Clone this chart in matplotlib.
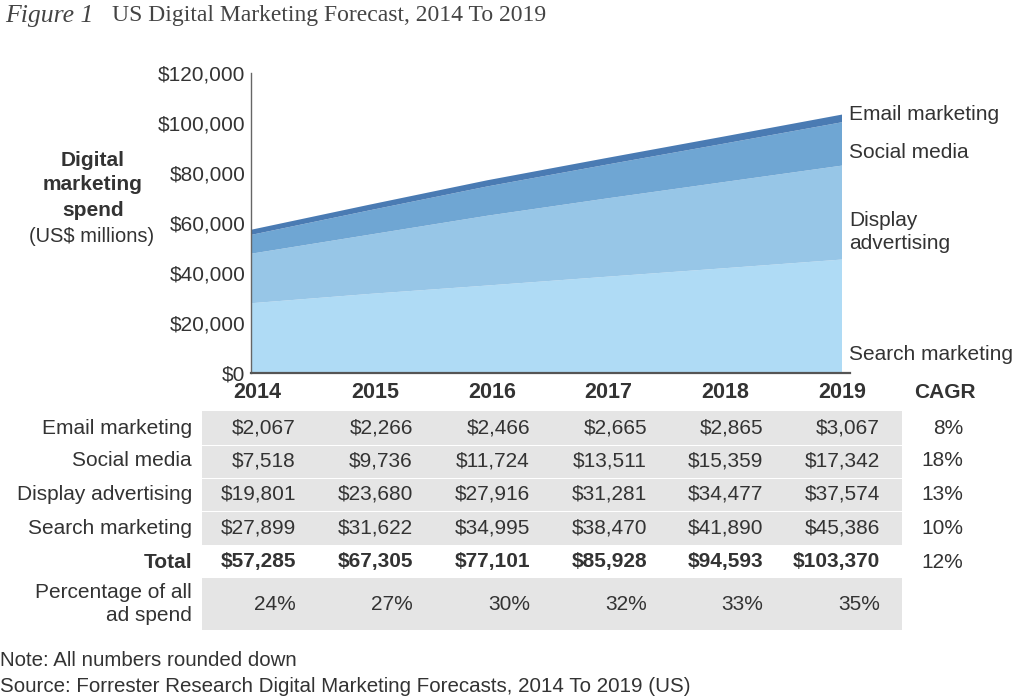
import matplotlib
matplotlib.use("Agg")
import matplotlib.pyplot as plt
from matplotlib.patches import Rectangle
from matplotlib.ticker import FuncFormatter

years = [2014, 2015, 2016, 2017, 2018, 2019]
email = [2067, 2266, 2466, 2665, 2865, 3067]
social = [7518, 9736, 11724, 13511, 15359, 17342]
display = [19801, 23680, 27916, 31281, 34477, 37574]
search = [27899, 31622, 34995, 38470, 41890, 45386]
total = [57285, 67305, 77101, 85928, 94593, 103370]
pct_all = ["24%", "27%", "30%", "32%", "33%", "35%"]
cagr = ["8%", "18%", "13%", "10%", "12%"]
row_labels = ["Email marketing", "Social media", "Display advertising", "Search marketing", "Total"]
series_labels = ["Search marketing", "Display\nadvertising", "Social media", "Email marketing"]
yticks = [0, 20000, 40000, 60000, 80000, 100000, 120000]

colors = ["#afdbf5", "#97c6e7", "#6fa6d3", "#4a7bb3"]
TXT = "#333333"
SANS = ["Liberation Sans", "DejaVu Sans"]
SERIF = ["Liberation Serif", "DejaVu Serif"]
TFS = 15  # table font size

W, H = 1024, 696
fig = plt.figure(figsize=(W / 100, H / 100), dpi=100)

# overlay axes in pixel coords for table/text
ov = fig.add_axes([0, 0, 1, 1], zorder=0)
ov.set_xlim(0, W)
ov.set_ylim(H, 0)
ov.axis("off")

# chart axes
x0, x1 = 251, 850
y0, y1 = 373, 73
ax = fig.add_axes([x0 / W, (H - y0) / H, (x1 - x0) / W, (y0 - y1) / H], zorder=2)
ax.stackplot(years, search, display, social, email, colors=colors, linewidth=0)
ax.set_xlim(2014, 2014 + 5 * (x1 - x0) / (842 - x0))
ax.set_ylim(0, 120000)
ax.set_yticks(yticks)
ax.yaxis.set_major_formatter(FuncFormatter(lambda v, p: "${:,.0f}".format(v)))
ax.tick_params(axis="y", length=0, pad=4, labelsize=15, labelcolor=TXT)
for lab in ax.get_yticklabels():
    lab.set_family(SANS)
ax.set_xticks([])
ax.patch.set_alpha(0)
for s in ["top", "right"]:
    ax.spines[s].set_visible(False)
ax.spines["left"].set_color("#666666")
ax.spines["left"].set_linewidth(1.0)
ax.spines["bottom"].set_color("#555555")
ax.spines["bottom"].set_linewidth(1.6)

# Title
fig.text(5 / W, 1 - 16 / H, "Figure 1", family=SERIF, style="italic", fontsize=18.5,
         color="#444444", va="center", ha="left")
fig.text(112 / W, 1 - 16 / H, "US Digital Marketing Forecast, 2014 To 2019", family=SERIF,
         fontsize=17, color="#444444", va="center", ha="left")

# Y axis title
ov.text(93, 185, "Digital\nmarketing\nspend", family=SANS, fontweight="bold", fontsize=15,
        color=TXT, ha="center", va="center", linespacing=1.4)
ov.text(92, 237, "(US$ millions)", family=SANS, fontsize=14.5, color=TXT, ha="center", va="center")

# Series labels on right
label_y = [355, 232, 152, 115]
for lbl, yy in zip(series_labels, label_y):
    ov.text(849, yy, lbl, family=SANS, fontsize=15, color=TXT, ha="left", va="center",
            linespacing=1.25)

# Table
col_center = [257, 375, 492, 608, 725, 842]
col_right = [296, 413, 530, 647, 763, 880]
ov.text(945, 393, "CAGR", family=SANS, fontweight="bold", fontsize=TFS, color=TXT,
        ha="center", va="center")
for yr, cx in zip(years, col_center):
    ov.text(cx, 393, str(yr), family=SANS, fontweight="bold", fontsize=15.5, color=TXT,
            ha="center", va="center")

bands = [(411, 445), (446, 478), (479, 511), (512, 545), (578, 630)]
for (ta, tb) in bands:
    ov.add_patch(Rectangle((202, ta), 902 - 202, tb - ta, facecolor="#e5e5e5", edgecolor="none"))

rows = [email, social, display, search, total]
row_y = [428, 461, 494, 528, 562]
for i, (lbl, vals, yy) in enumerate(zip(row_labels, rows, row_y)):
    bold = "bold" if lbl == "Total" else "normal"
    ov.text(192, yy, lbl, family=SANS, fontweight=bold, fontsize=TFS, color=TXT,
            ha="right", va="center")
    for v, rx in zip(vals, col_right):
        ov.text(rx, yy, "${:,}".format(v), family=SANS, fontweight=bold, fontsize=TFS,
                color=TXT, ha="right", va="center")
    ov.text(963, yy, cagr[i], family=SANS, fontsize=TFS, color=TXT, ha="right", va="center")

ov.text(192, 604, "Percentage of all\nad spend", family=SANS, fontsize=TFS, color=TXT,
        ha="right", va="center", linespacing=1.3, multialignment="right")
for p, rx in zip(pct_all, col_right):
    ov.text(rx, 604, p, family=SANS, fontsize=TFS, color=TXT, ha="right", va="center")

# Footer
ov.text(0, 660, "Note: All numbers rounded down", family=SANS, fontsize=14.8, color=TXT,
        ha="left", va="center")
ov.text(0, 686, "Source: Forrester Research Digital Marketing Forecasts, 2014 To 2019 (US)",
        family=SANS, fontsize=14.8, color=TXT, ha="left", va="center")

fig.savefig("out.png", dpi=100, facecolor="white")
